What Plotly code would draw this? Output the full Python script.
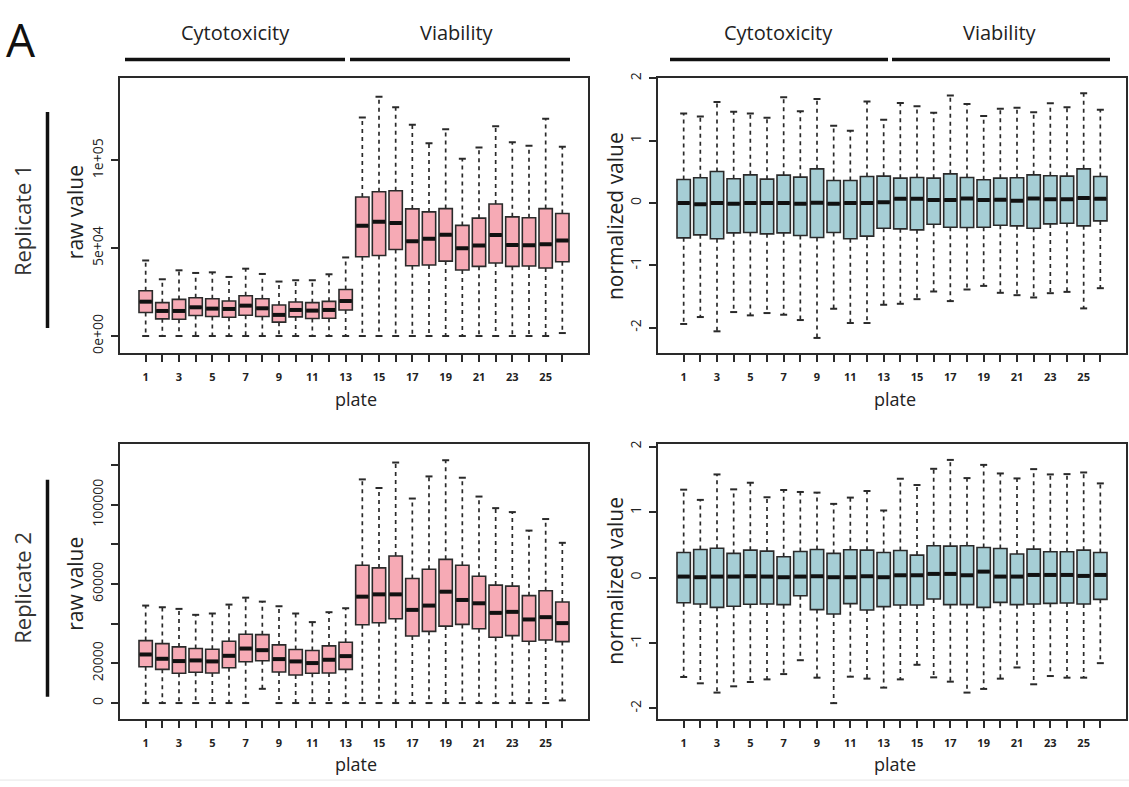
import plotly.graph_objects as go

W, H = 1129, 787

plates = list(range(1, 27))
xtick_text = [str(p) if p % 2 == 1 else "" for p in plates]

# ---- Replicate 1, raw values ----
r1_raw_upper = [43000, 32300, 37400, 35900, 36250, 33630, 38330, 35330, 31000, 31750, 31750, 35140, 44720,
                124400, 136200, 130200, 120260, 109730, 117630, 100900, 107300, 119320, 110300, 108230, 123640, 107670]
r1_raw_q3 = [25760, 19000, 20860, 21800, 21240, 19920, 22930, 21240, 17660, 19350, 19000, 19730, 26500,
             79100, 82100, 82680, 72340, 70650, 72530, 62950, 67080, 75160, 67830, 67270, 72530, 69710]
r1_raw_med = [19550, 14270, 14270, 16350, 15600, 15410, 17290, 15790, 12030, 14840, 14470, 14840, 19920,
              62760, 65000, 64260, 53930, 55430, 57680, 49970, 51470, 57500, 51850, 51660, 52240, 54310]
r1_raw_q1 = [13350, 9770, 9580, 11650, 11090, 10710, 11840, 11090, 7900, 10900, 9960, 10150, 14840,
             45100, 45850, 49220, 40020, 40400, 42640, 37580, 39650, 41520, 39650, 39840, 38710, 42280]
r1_raw_lower = [0, 0, 0, 0, 0, 0, 0, 0, 0, 0, 0, 0, 0,
                0, 0, 0, 0, 0, 0, 0, 0, 0, 0, 0, 0, 1700]

# ---- Replicate 1, normalized values ----
r1_norm_upper = [1.436, 1.388, 1.622, 1.463, 1.436, 1.367, 1.697, 1.473, 1.670, 1.239, 1.160, 1.628, 1.335,
                 1.606, 1.553, 1.447, 1.723, 1.590, 1.394, 1.511, 1.527, 1.457, 1.601, 1.537, 1.761, 1.495]
r1_norm_q3 = [0.378, 0.404, 0.505, 0.388, 0.452, 0.383, 0.447, 0.415, 0.548, 0.362, 0.362, 0.426, 0.431,
              0.399, 0.410, 0.399, 0.468, 0.410, 0.372, 0.399, 0.404, 0.452, 0.436, 0.431, 0.548, 0.426]
r1_norm_med = [0.000, -0.021, 0.000, -0.011, 0.000, 0.000, 0.000, -0.011, 0.005, -0.011, 0.000, 0.000, 0.011,
               0.069, 0.069, 0.048, 0.048, 0.074, 0.048, 0.053, 0.037, 0.074, 0.059, 0.059, 0.080, 0.069]
r1_norm_q1 = [-0.559, -0.511, -0.574, -0.479, -0.473, -0.495, -0.479, -0.521, -0.553, -0.473, -0.574, -0.532, -0.404,
              -0.415, -0.431, -0.340, -0.388, -0.394, -0.388, -0.356, -0.367, -0.404, -0.335, -0.324, -0.367, -0.287]
r1_norm_lower = [-1.941, -1.830, -2.059, -1.750, -1.803, -1.766, -1.793, -1.878, -2.165, -1.697, -1.926, -1.926, -1.633,
                 -1.617, -1.543, -1.420, -1.574, -1.388, -1.330, -1.441, -1.479, -1.516, -1.447, -1.426, -1.691, -1.367]

# ---- Replicate 2, raw values ----
r2_raw_upper = [49170, 48330, 47500, 44500, 45170, 49670, 53170, 51170, 48830, 45170, 40830, 45830, 47830,
                112830, 108500, 121330, 103170, 114330, 122500, 113670, 104170, 98330, 96330, 87000, 92830, 80830]
r2_raw_q3 = [31500, 30000, 28330, 27500, 27170, 31170, 34670, 34500, 29330, 27000, 26500, 28830, 30670,
             69500, 68170, 74170, 62830, 67500, 72500, 69500, 64000, 59500, 59000, 54170, 56670, 51000]
r2_raw_med = [24500, 22330, 21170, 21500, 21000, 23830, 27500, 26670, 22170, 21000, 20170, 21830, 23670,
              53670, 54830, 54830, 47000, 49170, 56170, 52000, 50330, 45500, 46000, 42170, 43330, 40330]
r2_raw_q1 = [18330, 17000, 15000, 15500, 15170, 17830, 20830, 21330, 15670, 14170, 15000, 15170, 17000,
             39500, 40500, 42500, 33830, 36170, 38830, 39670, 37500, 33170, 34000, 31170, 31830, 31000]
r2_raw_lower = [0, 0, 0, 0, 0, 0, 0, 7170, 0, 0, 0, 0, 0,
                0, 0, 0, 0, 0, 0, 0, 0, 0, 0, 0, 0, 1330]

# ---- Replicate 2, normalized values ----
r2_norm_upper = [1.343, 1.187, 1.576, 1.348, 1.449, 1.227, 1.338, 1.308, 1.298, 1.126, 1.222, 1.323, 1.025,
                 1.510, 1.414, 1.662, 1.798, 1.520, 1.722, 1.591, 1.515, 1.657, 1.576, 1.581, 1.606, 1.439]
r2_norm_q3 = [0.384, 0.429, 0.449, 0.369, 0.419, 0.404, 0.318, 0.399, 0.429, 0.369, 0.424, 0.419, 0.384,
              0.414, 0.343, 0.485, 0.480, 0.485, 0.460, 0.444, 0.359, 0.434, 0.394, 0.394, 0.419, 0.384]
r2_norm_med = [0.015, 0.005, 0.015, 0.015, 0.020, 0.015, 0.005, 0.015, 0.020, 0.005, 0.005, 0.020, 0.005,
               0.035, 0.035, 0.056, 0.056, 0.035, 0.091, 0.015, 0.015, 0.040, 0.040, 0.040, 0.025, 0.040]
r2_norm_q1 = [-0.384, -0.404, -0.455, -0.439, -0.409, -0.404, -0.414, -0.278, -0.490, -0.556, -0.399, -0.495, -0.444,
              -0.419, -0.419, -0.328, -0.414, -0.414, -0.455, -0.379, -0.414, -0.404, -0.394, -0.389, -0.404, -0.333]
r2_norm_lower = [-1.520, -1.616, -1.758, -1.662, -1.596, -1.556, -1.475, -1.263, -1.530, -1.919, -1.515, -1.545, -1.682,
                 -1.556, -1.333, -1.525, -1.591, -1.758, -1.702, -1.545, -1.374, -1.631, -1.505, -1.530, -1.530, -1.308]

group_labels = ["Cytotoxicity", "Viability"]
replicate_labels = ["Replicate 1", "Replicate 2"]

PINK = "#F6AAB5"
BLUE = "#A6CED5"
EDGE = "#2a2a2a"
FONT = "Open Sans"
BOX_W = 0.8
CAP_W = 0.42

panels = [
    dict(ax="", stats=(r1_raw_lower, r1_raw_q1, r1_raw_med, r1_raw_q3, r1_raw_upper), color=PINK),
    dict(ax="2", stats=(r1_norm_lower, r1_norm_q1, r1_norm_med, r1_norm_q3, r1_norm_upper), color=BLUE),
    dict(ax="3", stats=(r2_raw_lower, r2_raw_q1, r2_raw_med, r2_raw_q3, r2_raw_upper), color=PINK),
    dict(ax="4", stats=(r2_norm_lower, r2_norm_q1, r2_norm_med, r2_norm_q3, r2_norm_upper), color=BLUE),
]

fig = go.Figure()

for pnl in panels:
    lo, q1, med, q3, up = pnl["stats"]
    xa, ya = "x" + pnl["ax"], "y" + pnl["ax"]
    # dashed whiskers
    wx, wy = [], []
    for p, a, b, c, d in zip(plates, lo, q1, q3, up):
        wx += [p, p, None, p, p, None]
        wy += [c, d, None, b, a, None]
    fig.add_trace(go.Scatter(x=wx, y=wy, mode="lines", xaxis=xa, yaxis=ya,
                             line=dict(color=EDGE, width=1.7, dash="4px,4px"),
                             hoverinfo="skip", showlegend=False))
    # whisker caps
    cx, cy = [], []
    for p, a, d in zip(plates, lo, up):
        cx += [p - CAP_W / 2, p + CAP_W / 2, None, p - CAP_W / 2, p + CAP_W / 2, None]
        cy += [d, d, None, a, a, None]
    fig.add_trace(go.Scatter(x=cx, y=cy, mode="lines", xaxis=xa, yaxis=ya,
                             line=dict(color=EDGE, width=2),
                             hoverinfo="skip", showlegend=False))
    # boxes
    fig.add_trace(go.Box(x=plates, q1=q1, median=med, q3=q3, lowerfence=q1, upperfence=q3,
                         xaxis=xa, yaxis=ya, width=BOX_W, fillcolor=pnl["color"],
                         line=dict(color=EDGE, width=1.6), showlegend=False, hoverinfo="skip"))
    # thick medians
    mx, my = [], []
    for p, m in zip(plates, med):
        mx += [p - BOX_W / 2 + 0.03, p + BOX_W / 2 - 0.03, None]
        my += [m, m, None]
    fig.add_trace(go.Scatter(x=mx, y=my, mode="lines", xaxis=xa, yaxis=ya,
                             line=dict(color="#111111", width=4),
                             hoverinfo="skip", showlegend=False))


def px(x):
    return x / W


def py(y):
    return 1 - y / H


xdom_l = [px(120), px(588)]
xdom_r = [px(658), px(1126)]
ydom_t = [py(350), py(73)]
ydom_b = [py(719.3), py(442)]

xaxis_common = dict(range=[-0.54, 27.54], tickvals=plates, ticktext=xtick_text,
                    ticks="outside", ticklen=7, tickwidth=1.6, tickcolor=EDGE,
                    showline=True, linecolor=EDGE, linewidth=2, mirror=True,
                    showgrid=False, zeroline=False, ticklabelstandoff=6,
                    tickfont=dict(family=FONT, size=11, color="#222", weight="bold"))
yaxis_common = dict(ticks="outside", ticklen=7, tickwidth=1.6, tickcolor=EDGE,
                    showline=True, linecolor=EDGE, linewidth=2, mirror=True,
                    showgrid=False, zeroline=False, tickangle=-90, ticklabelstandoff=2,
                    tickfont=dict(family=FONT, size=14, color="#222"))

norm_ticks = [-2, -1, 0, 1, 2]
norm_text = ["-2", "-1", "0", "1", "2"]
raw1_ticks = [0, 50000, 100000]
raw1_text = ["0e+00", "5e+04", "1e+05"]
raw2_ticks = [0, 20000, 40000, 60000, 80000, 100000, 120000]
raw2_text = ["0", "20000", "", "60000", "", "100000", ""]

fig.update_layout(
    width=W, height=H,
    margin=dict(l=0, r=0, t=0, b=0),
    paper_bgcolor="white", plot_bgcolor="white",
    showlegend=False,
    xaxis=dict(domain=xdom_l, anchor="y", **xaxis_common),
    yaxis=dict(domain=ydom_t, anchor="x", range=[-9590, 146640],
               tickvals=raw1_ticks, ticktext=raw1_text, **yaxis_common),
    xaxis2=dict(domain=xdom_r, anchor="y2", **xaxis_common),
    yaxis2=dict(domain=ydom_t, anchor="x2", range=[-2.405, 2.0],
                tickvals=norm_ticks, ticktext=norm_text, **yaxis_common),
    xaxis3=dict(domain=xdom_l, anchor="y3", **xaxis_common),
    yaxis3=dict(domain=ydom_b, anchor="x3", range=[-8000, 130650],
                tickvals=raw2_ticks, ticktext=raw2_text, **yaxis_common),
    xaxis4=dict(domain=xdom_r, anchor="y4", **xaxis_common),
    yaxis4=dict(domain=ydom_b, anchor="x4", range=[-2.16, 2.04],
                tickvals=norm_ticks, ticktext=norm_text, **yaxis_common),
)

ann = []
shapes = []


def text(x, y, s, size, angle=0, color="#222", yanchor="middle"):
    ann.append(dict(x=px(x), y=py(y), xref="paper", yref="paper", text=s, showarrow=False,
                    textangle=angle, xanchor="center", yanchor=yanchor,
                    font=dict(family=FONT, size=size, color=color)))


def hline(x0, x1, y, w=3.5):
    shapes.append(dict(type="line", xref="paper", yref="paper", x0=px(x0), x1=px(x1),
                       y0=py(y), y1=py(y), line=dict(color="#111", width=w)))


def vline(x, y0, y1, w=3.5):
    shapes.append(dict(type="line", xref="paper", yref="paper", x0=px(x), x1=px(x),
                       y0=py(y0), y1=py(y1), line=dict(color="#111", width=w)))


# panel letter
text(21, 0, "A", 46, color="#111", yanchor="top")

# group headers
text(235, 27, group_labels[0], 20)
text(457, 27, group_labels[1], 20)
text(778, 27, group_labels[0], 20)
text(1000, 27, group_labels[1], 20)
hline(125, 345, 54)
hline(350, 570, 54)
hline(670, 888, 54)
hline(892, 1110, 54)

# replicate labels
text(22, 216, replicate_labels[0], 22, -90, "#333")
text(22, 587, replicate_labels[1], 22, -90, "#333")
vline(47.5, 107, 325)
vline(47.5, 478, 697)

# axis titles
text(75, 208, "raw value", 21, -90)
text(75, 583, "raw value", 21, -90)
text(615, 212, "normalized value", 21, -90)
text(615, 580, "normalized value", 21, -90)
text(356, 397, "plate", 18)
text(895, 397, "plate", 18)
text(356, 765, "plate", 18)
text(895, 765, "plate", 18)

# faint bottom border
shapes.append(dict(type="line", xref="paper", yref="paper", x0=0, x1=1,
                   y0=py(781), y1=py(781), line=dict(color="#e6e6e6", width=1)))

fig.update_layout(annotations=ann, shapes=shapes)

fig.write_html("out.html", config={"displayModeBar": False},
               post_script="document.body.style.margin='0';document.body.style.overflow='hidden';")
